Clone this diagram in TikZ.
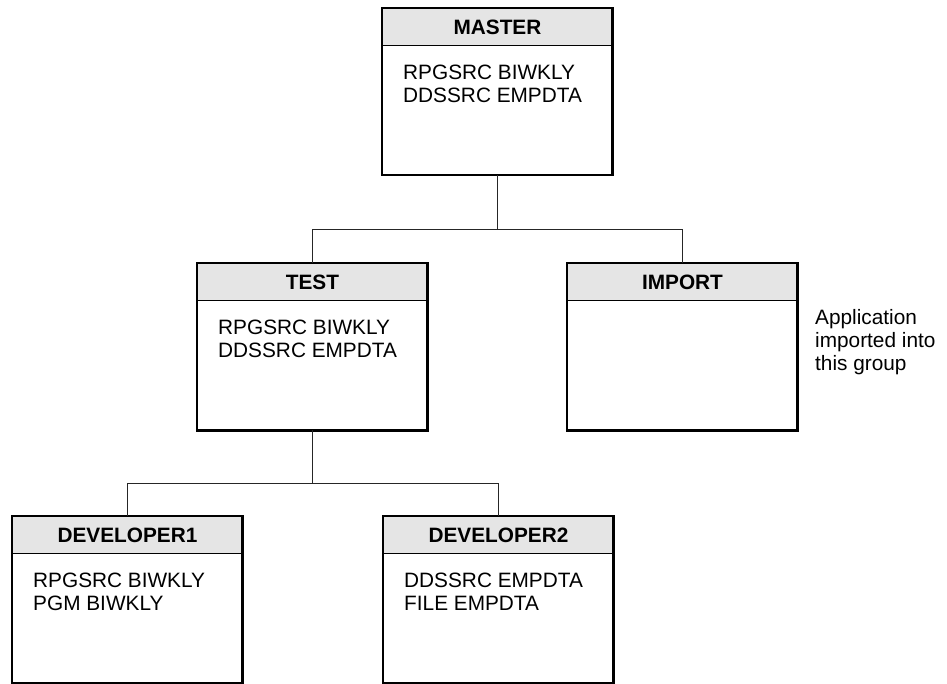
\documentclass[tikz,border=0pt]{standalone}
\usepackage{fontspec}
\setmainfont{Liberation Sans}
\begin{document}
\begin{tikzpicture}[x=1pt,y=-1pt,
  txt/.style={font=\fontsize{20.8}{23}\selectfont, inner sep=0pt, align=left, anchor=north west},
  frame/.style={draw=none, minimum width=230pt, minimum height=167pt, inner sep=0pt, anchor=north west},
  hdr/.style={fill=gray!20, draw=black, line width=0.9pt, minimum width=230pt, minimum height=37pt, inner sep=0pt, anchor=north west, font=\fontsize{20.8}{23}\selectfont\bfseries},
  outline/.style={draw=black, line width=2.2pt},
  conn/.style={draw=black!85, line width=1.1pt}]
\useasboundingbox (0,0) rectangle (947,684);

\newcommand\grpbox[5]{%
  \node[frame] (#1) at (#2,#3) {};
  \node[hdr] (#1h) at (#1.north west) {#4};
  \node[txt] (#1b) at ([xshift=21pt,yshift=-19pt]#1h.south west) {#5};
  \draw[outline] (#1.north west) rectangle (#1.south east);
}

\grpbox{master}{382}{8}{MASTER}{RPGSRC BIWKLY\\DDSSRC EMPDTA}
\grpbox{test}{197}{263}{TEST}{RPGSRC BIWKLY\\DDSSRC EMPDTA}
\grpbox{import}{567}{263}{IMPORT}{}
\grpbox{dev1}{12}{516}{DEVELOPER1}{RPGSRC BIWKLY\\PGM BIWKLY}
\grpbox{dev2}{383}{516}{DEVELOPER2}{DDSSRC EMPDTA\\FILE EMPDTA}

\node[txt] (note) at (815,309) {Application\\imported into\\this group};

\coordinate (j1) at ([yshift=-54pt]master.south);
\coordinate (j2) at ([yshift=-53pt]test.south);
\draw[conn] (master.south) -- (j1);
\draw[conn] (test.north) -- (test.north |- j1) -- (import.north |- j1) -- (import.north);
\draw[conn] (test.south) -- (j2);
\draw[conn] (dev1.north) -- (dev1.north |- j2) -- (dev2.north |- j2) -- (dev2.north);
\end{tikzpicture}
\end{document}
